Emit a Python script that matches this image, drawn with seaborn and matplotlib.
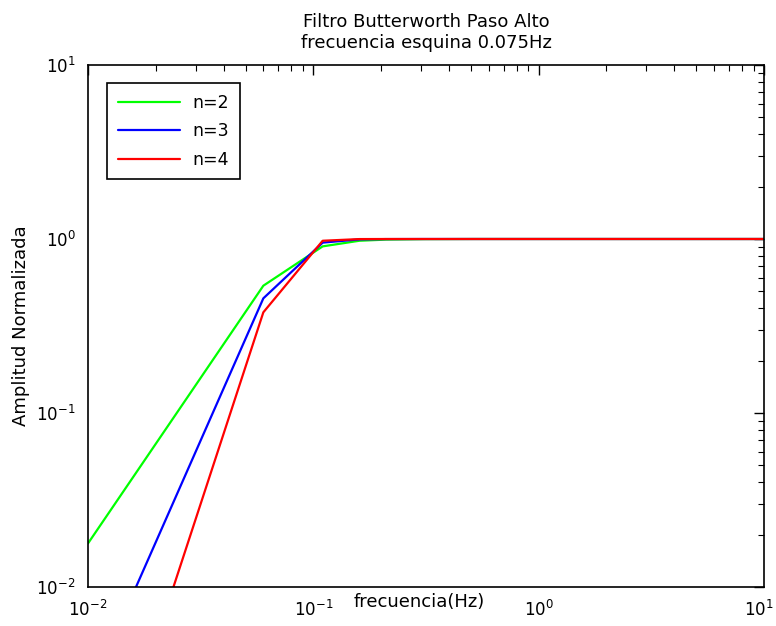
import numpy as np
import pandas as pd
import matplotlib
matplotlib.use("Agg")
import matplotlib.pyplot as plt
import seaborn as sns
from matplotlib.transforms import ScaledTranslation

# Data (samples every 0.05 Hz starting at 0.01 Hz)
freq = [0.01, 0.06, 0.11, 0.16, 0.21, 0.31, 0.51, 1.01, 10.0]
amp_n2 = [0.0178, 0.539, 0.907, 0.977, 0.992, 0.998, 0.9998, 1.0, 1.0]
amp_n3 = [0.00237, 0.456, 0.953, 0.995, 0.999, 0.9999, 1.0, 1.0, 1.0]
amp_n4 = [0.000316, 0.379, 0.977, 0.999, 0.9999, 1.0, 1.0, 1.0, 1.0]
labels = ["n=2", "n=3", "n=4"]
colors = ["#00ff00", "#0000ff", "#ff0000"]
tick_vals = [1e-2, 1e-1, 1e0, 1e1]
tick_labels = [r"$\mathdefault{10^{-2}}$", r"$\mathdefault{10^{-1}}$",
               r"$\mathdefault{10^{0}}$", r"$\mathdefault{10^{1}}$"]

df = pd.concat([
    pd.DataFrame({"f": freq, "a": vals, "serie": lab})
    for vals, lab in zip([amp_n2, amp_n3, amp_n4], labels)
])

sns.set_theme(style="white")
plt.rcParams["font.family"] = ["DejaVu Sans"]
plt.rcParams["text.color"] = "black"
plt.rcParams["axes.labelcolor"] = "black"

fig = plt.figure(figsize=(7.76, 6.26), dpi=100)
ax = fig.add_axes([88/776, 39/626, (764-88)/776, (587-65)/626])

sns.lineplot(data=df, x="f", y="a", hue="serie", palette=colors,
             hue_order=labels, linewidth=1.6, ax=ax, sort=False,
             estimator=None)

ax.set_xscale("log")
ax.set_yscale("log")
ax.set_xlim(1e-2, 1e1)
ax.set_ylim(1e-2, 1e1)

for s in ax.spines.values():
    s.set_color("black")
    s.set_linewidth(1.2)

ax.tick_params(which="both", direction="in", top=True, right=True,
               colors="black", labelsize=12)
ax.tick_params(which="major", length=7, width=1.0)
ax.tick_params(axis="x", which="major", pad=9)
ax.tick_params(axis="y", which="major", pad=9)
ax.tick_params(which="minor", length=4, width=0.8)
ax.xaxis.set_minor_locator(matplotlib.ticker.LogLocator(base=10, subs=np.arange(2, 10)))
ax.yaxis.set_minor_locator(matplotlib.ticker.LogLocator(base=10, subs=np.arange(2, 10)))
ax.xaxis.set_minor_formatter(matplotlib.ticker.NullFormatter())
ax.yaxis.set_minor_formatter(matplotlib.ticker.NullFormatter())
ax.set_xticks(tick_vals)
ax.set_xticklabels(tick_labels)
ax.set_yticks(tick_vals)
ax.set_yticklabels(tick_labels)
# last x tick label sits left of its tick so it stays inside the figure
lab = ax.get_xticklabels()[-1]
lab.set_horizontalalignment("right")
lab.set_transform(lab.get_transform() + ScaledTranslation(10/100, 0, fig.dpi_scale_trans))

ax.set_xlabel("frecuencia(Hz)", fontsize=13, color="black")
ax.xaxis.set_label_coords(0.49, -0.012)
ax.set_ylabel("Amplitud Normalizada", fontsize=13, color="black")
ax.yaxis.set_label_coords(-0.086, 0.5)
ax.set_title("Filtro Butterworth Paso Alto\nfrecuencia esquina 0.075Hz",
             fontsize=13, color="black", pad=12, linespacing=1.25)

leg = ax.legend(loc="upper left", bbox_to_anchor=(0.028, 0.9655),
                borderaxespad=0, fontsize=12.5, frameon=True, fancybox=False,
                framealpha=1, edgecolor="black", handlelength=3.6,
                borderpad=0.62, labelspacing=0.6, handletextpad=0.7)
leg.get_frame().set_linewidth(1.2)
for t in leg.get_texts():
    t.set_color("black")

fig.savefig("out.png", dpi=100, facecolor="white")
